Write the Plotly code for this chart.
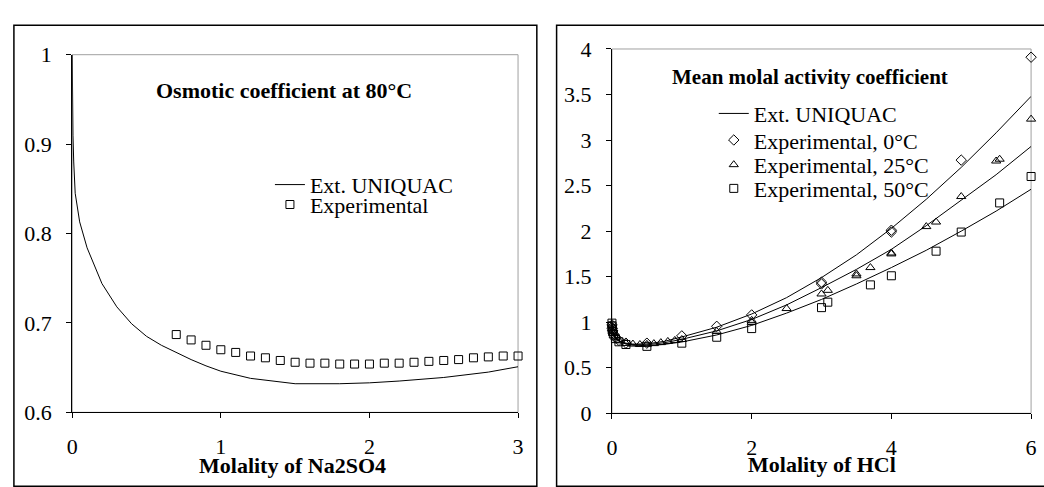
import plotly.graph_objects as go

# ---------------- Left panel: Na2SO4 osmotic coefficient at 80 C ----------------
na_model_x = [0, 0.001, 0.005, 0.01, 0.02, 0.05, 0.1, 0.2, 0.3, 0.4, 0.5, 0.6, 0.7, 0.8,
              0.9, 1.0, 1.2, 1.5, 1.8, 2.0, 2.2, 2.5, 2.8, 3.0]
na_model_y = [1.0, 0.96, 0.91, 0.88, 0.845, 0.813, 0.784, 0.744, 0.718, 0.699, 0.685, 0.675,
              0.667, 0.659, 0.652, 0.646, 0.638, 0.632, 0.632, 0.633, 0.635, 0.639, 0.645,
              0.651]
na_exp_x = [0.7, 0.8, 0.9, 1.0, 1.1, 1.2, 1.3, 1.4, 1.5, 1.6, 1.7, 1.8, 1.9, 2.0,
            2.1, 2.2, 2.3, 2.4, 2.5, 2.6, 2.7, 2.8, 2.9, 3.0]
na_exp_y = [0.687, 0.681, 0.675, 0.670, 0.667, 0.663, 0.661, 0.658, 0.656, 0.655, 0.655,
            0.654, 0.654, 0.654, 0.655, 0.655, 0.656, 0.657, 0.658, 0.659, 0.661, 0.662,
            0.663, 0.663]

# ---------------- Right panel: HCl mean molal activity coefficient ----------------
hcl_model_x = [0, 0.001, 0.005, 0.01, 0.02, 0.05, 0.1, 0.2, 0.3, 0.5, 0.75, 1, 1.5, 2,
               2.5, 3, 3.5, 4, 4.5, 5, 5.5, 6]
hcl_model_0 = [1, 0.966, 0.928, 0.904, 0.875, 0.830, 0.797, 0.770, 0.760, 0.762, 0.790,
               0.838, 0.945, 1.09, 1.27, 1.49, 1.74, 2.03, 2.35, 2.70, 3.08, 3.48]
hcl_model_25 = [1, 0.965, 0.927, 0.903, 0.873, 0.828, 0.794, 0.765, 0.754, 0.752, 0.775,
                0.812, 0.905, 1.03, 1.19, 1.38, 1.58, 1.80, 2.06, 2.34, 2.62, 2.93]
hcl_model_50 = [1, 0.964, 0.925, 0.901, 0.871, 0.825, 0.790, 0.760, 0.748, 0.742, 0.757,
                0.783, 0.86, 0.965, 1.10, 1.25, 1.42, 1.60, 1.79, 2.00, 2.22, 2.46]

exp0_x = [0.001, 0.005, 0.01, 0.02, 0.05, 0.1, 0.2, 0.5, 1.0, 1.5, 2.0, 3.0, 3.0, 4.0, 4.0,
          5.0, 6.0]
exp0_y = [0.97, 0.93, 0.905, 0.875, 0.83, 0.80, 0.77, 0.77, 0.85, 0.955, 1.08, 1.44, 1.42,
          2.01, 1.99, 2.78, 3.91]
exp25_x = [0.001, 0.005, 0.01, 0.02, 0.05, 0.1, 0.2, 0.3, 0.4, 0.5, 0.6, 0.7, 0.8, 0.9, 1.0,
           1.5, 2.0, 2.0, 2.5, 3.0, 3.09, 3.5, 3.5, 3.7, 4.0, 4.0, 4.5, 4.64, 5.0, 5.5, 5.55,
           6.0]
exp25_y = [0.966, 0.929, 0.905, 0.876, 0.830, 0.796, 0.767, 0.76, 0.755, 0.757, 0.765,
           0.776, 0.789, 0.80, 0.81, 0.90, 1.0, 1.02, 1.15, 1.31, 1.35, 1.53, 1.51, 1.60,
           1.76, 1.75, 2.05, 2.10, 2.38, 2.77, 2.79, 3.23]
exp50_x = [0.0, 0.001, 0.005, 0.01, 0.02, 0.05, 0.1, 0.2, 0.5, 1.0, 1.5, 2.0, 3.0, 3.09, 3.7,
           4.0, 4.64, 5.0, 5.55, 6.0]
exp50_y = [0.99, 0.96, 0.925, 0.90, 0.87, 0.82, 0.785, 0.755, 0.735, 0.77, 0.835, 0.93, 1.16,
           1.22, 1.41, 1.51, 1.78, 1.99, 2.31, 2.60]

W, H = 1044, 487
FONT = "Liberation Serif, Times New Roman, serif"


def px(x):
    return x / W


def py(y):
    return 1 - y / H


fig = go.Figure()

# left panel traces
fig.add_trace(go.Scatter(x=na_model_x, y=na_model_y, mode="lines", name="Ext. UNIQUAC",
                         line=dict(color="black", width=1), xaxis="x", yaxis="y",
                         legend="legend", cliponaxis=False))
fig.add_trace(go.Scatter(x=na_exp_x, y=na_exp_y, mode="markers", name="Experimental",
                         marker=dict(symbol="square-open", size=8, color="black",
                                     line=dict(width=1)),
                         xaxis="x", yaxis="y", legend="legend2", cliponaxis=False))

# right panel traces
for i, yy in enumerate([hcl_model_0, hcl_model_25, hcl_model_50]):
    fig.add_trace(go.Scatter(x=hcl_model_x, y=yy, mode="lines", name="Ext. UNIQUAC",
                             line=dict(color="black", width=1), xaxis="x2", yaxis="y2",
                             legend="legend3", showlegend=(i == 0)))
for xx, yy, sym, nm, lg in [(exp0_x, exp0_y, "diamond-open", "Experimental, 0°C", "legend4"),
                            (exp25_x, exp25_y, "triangle-up-open", "Experimental, 25°C", "legend5"),
                            (exp50_x, exp50_y, "square-open", "Experimental, 50°C", "legend6")]:
    fig.add_trace(go.Scatter(x=xx, y=yy, mode="markers", name=nm,
                             marker=dict(symbol=sym, size=8, color="black",
                                         line=dict(width=1)),
                             xaxis="x2", yaxis="y2", legend=lg, cliponaxis=False))

TICK_SIZE = 22
axis_common = dict(showgrid=False, zeroline=False, showline=True, linecolor="black",
                   linewidth=1, ticks="outside", ticklen=5, tickcolor="black",
                   tickfont=dict(family=FONT, size=TICK_SIZE, color="black"))

L_X0, L_X1, L_Y0, L_Y1 = 67, 518, 45, 422
R_X0, R_X1, R_Y0, R_Y1 = 613, 1037, 39, 423


def legend_at(x, y):
    return dict(x=px(x), y=py(y), xanchor="left", yanchor="top",
                font=dict(family=FONT, size=22), bgcolor="rgba(0,0,0,0)")


fig.update_layout(
    width=W, height=H, margin=dict(l=0, r=0, t=0, b=0),
    paper_bgcolor="white", plot_bgcolor="white",
    font=dict(family=FONT, color="black"),
    xaxis=dict(domain=[px(L_X0), px(L_X1)], range=[0, 3], dtick=1, anchor="y",
               ticklabelstandoff=9, **axis_common),
    yaxis=dict(domain=[py(L_Y1), py(L_Y0)], range=[0.6, 1], dtick=0.1, anchor="x",
               ticklabelstandoff=10, **axis_common),
    xaxis2=dict(domain=[px(R_X0), px(R_X1)], range=[0, 6], dtick=2, anchor="y2",
                ticklabelstandoff=9, **axis_common),
    yaxis2=dict(domain=[py(R_Y1), py(R_Y0)], range=[0, 4], dtick=0.5, anchor="x2",
                ticklabelstandoff=10, **axis_common),
    legend=legend_at(267, 160),
    legend2=legend_at(267, 181),
    legend3=legend_at(716, 85),
    legend4=legend_at(716, 113),
    legend5=legend_at(716, 139),
    legend6=legend_at(716, 164),
    showlegend=True,
)

shapes = [
    # outer chart borders
    dict(type="rect", xref="paper", yref="paper", x0=px(8), x1=px(537), y0=py(500), y1=py(14),
         line=dict(color="black", width=1.5), layer="below"),
    dict(type="rect", xref="paper", yref="paper", x0=px(557), x1=px(1060), y0=py(500), y1=py(14),
         line=dict(color="black", width=1.5), layer="below"),
    # grey plot-area frames
    dict(type="rect", xref="paper", yref="paper", x0=px(L_X0), x1=px(L_X1), y0=py(L_Y1), y1=py(L_Y0),
         line=dict(color="#a0a0a0", width=1), layer="below"),
    dict(type="rect", xref="paper", yref="paper", x0=px(R_X0), x1=px(R_X1), y0=py(R_Y1), y1=py(R_Y0),
         line=dict(color="#a0a0a0", width=1), layer="below"),
]
fig.update_layout(shapes=shapes)

ann_common = dict(xref="paper", yref="paper", showarrow=False, xanchor="center",
                  yanchor="middle")
annotations = [
    dict(text="<b>Osmotic coefficient at 80°C</b>", x=px(281), y=py(83),
         font=dict(family=FONT, size=22), **ann_common),
    dict(text="<b>Mean molal activity coefficient</b>", x=px(813), y=py(68),
         font=dict(family=FONT, size=21), **ann_common),
    dict(text="<b>Molality of Na2SO4</b>", x=px(290), y=py(478),
         font=dict(family=FONT, size=22), **ann_common),
    dict(text="<b>Molality of HCl</b>", x=px(825), y=py(477),
         font=dict(family=FONT, size=22), **ann_common),
]
fig.update_layout(annotations=annotations)

fig.write_html("out.html", config={"displayModeBar": False},
               post_script="document.body.style.margin='0px';"
                           "document.body.style.padding='0px';"
                           "document.body.style.overflow='hidden';")
